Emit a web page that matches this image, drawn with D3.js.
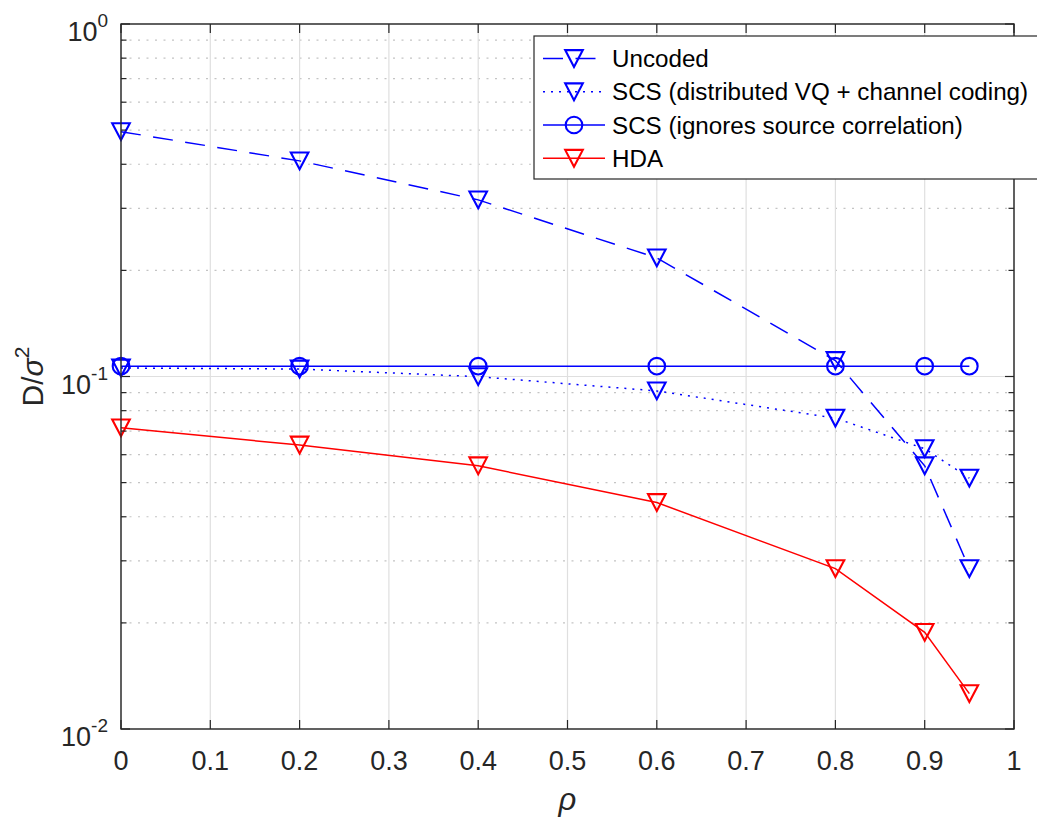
<!DOCTYPE html>
<html>
<head>
<meta charset="utf-8">
<script src="https://cdn.jsdelivr.net/npm/d3@7"></script>
<style>
  body { margin: 0; background: #fff; }
  svg { display: block; }
  text { font-family: "Liberation Sans", Arial, Helvetica, sans-serif; fill: #262626; }
</style>
</head>
<body>
<svg id="chart" width="1037" height="819"></svg>
<script>
// Correlation coefficient values
const rho = [0, 0.2, 0.4, 0.6, 0.8, 0.9, 0.95];

// Normalized distortion D/sigma^2 for each scheme
const uncoded   = [0.495, 0.409, 0.317, 0.217, 0.111, 0.0558, 0.0285];
const scsVq     = [0.1057, 0.105, 0.0999, 0.091, 0.0762, 0.0624, 0.0515];
const scsIgnore = [0.107, 0.107, 0.107, 0.107, 0.107, 0.107, 0.107];
const hda       = [0.0715, 0.0639, 0.0558, 0.0439, 0.0285, 0.0188, 0.0126];

// Axis ticks
const xTicks = [0, 0.1, 0.2, 0.3, 0.4, 0.5, 0.6, 0.7, 0.8, 0.9, 1];
const xTickLabels = ["0", "0.1", "0.2", "0.3", "0.4", "0.5", "0.6", "0.7", "0.8", "0.9", "1"];
const yDecadeExps = [-2, -1, 0];

const seriesNames = [
  "Uncoded",
  "SCS (distributed VQ + channel coding)",
  "SCS (ignores source correlation)",
  "HDA"
];

const series = [
  { name: seriesNames[0], values: uncoded,   color: "#0000ff", dash: "20,12.5", marker: "tri" },
  { name: seriesNames[1], values: scsVq,     color: "#0000ff", dash: "2,6",     marker: "tri" },
  { name: seriesNames[2], values: scsIgnore, color: "#0000ff", dash: null,      marker: "circ" },
  { name: seriesNames[3], values: hda,       color: "#ff0000", dash: null,      marker: "tri" }
];

const svg = d3.select("#chart");
const plotL = 121, plotR = 1014, plotT = 24, plotB = 729;
const axisColor = "#262626";

const x = d3.scaleLinear().domain([0, 1]).range([plotL, plotR]);
const y = d3.scaleLog().domain([0.01, 1]).range([plotB, plotT]);

// Grid: minor (dotted) horizontal lines
const minorVals = [];
yDecadeExps.slice(0, -1).forEach(e => {
  for (let k = 2; k <= 9; k++) minorVals.push(k * Math.pow(10, e));
});
const grid = svg.append("g");
grid.selectAll("line.minor").data(minorVals).enter().append("line")
  .attr("x1", plotL).attr("x2", plotR)
  .attr("y1", d => y(d)).attr("y2", d => y(d))
  .attr("stroke", "#c4c4c4").attr("stroke-width", 1.2)
  .attr("stroke-dasharray", "2,6.5");

// Grid: major lines
grid.selectAll("line.vx").data(xTicks).enter().append("line")
  .attr("x1", d => x(d)).attr("x2", d => x(d))
  .attr("y1", plotT).attr("y2", plotB)
  .attr("stroke", "#dfdfdf").attr("stroke-width", 1.2);
grid.selectAll("line.hy").data(yDecadeExps).enter().append("line")
  .attr("x1", plotL).attr("x2", plotR)
  .attr("y1", d => y(Math.pow(10, d))).attr("y2", d => y(Math.pow(10, d)))
  .attr("stroke", "#dfdfdf").attr("stroke-width", 1.2);

// Marker shapes
const triPath = () => {
  const w = 8.8, h = 8.4;
  return `M${-w},${-h}L${w},${-h}L0,${h}Z`;
};
function drawMarker(g, type, cx, cy, color) {
  if (type === "tri") {
    g.append("path").attr("d", triPath())
      .attr("transform", `translate(${cx},${cy})`)
      .attr("fill", "none").attr("stroke", color).attr("stroke-width", 2.1)
      .attr("stroke-linejoin", "miter");
  } else {
    g.append("circle").attr("cx", cx).attr("cy", cy).attr("r", 8.3)
      .attr("fill", "none").attr("stroke", color).attr("stroke-width", 2.1);
  }
}

// Series lines and markers
const lineGen = d3.line().x(d => x(d[0])).y(d => y(d[1]));
const plot = svg.append("g");
series.forEach(s => {
  const pts = rho.map((r, i) => [r, s.values[i]]);
  const p = plot.append("path").datum(pts)
    .attr("d", lineGen)
    .attr("fill", "none").attr("stroke", s.color).attr("stroke-width", 1.5);
  if (s.dash) p.attr("stroke-dasharray", s.dash);
  pts.forEach(d => drawMarker(plot, s.marker, x(d[0]), y(d[1]), s.color));
});

// Axes box and ticks
const ax = svg.append("g");
ax.append("rect").attr("x", plotL).attr("y", plotT)
  .attr("width", plotR - plotL).attr("height", plotB - plotT)
  .attr("fill", "none").attr("stroke", axisColor).attr("stroke-width", 1.4);

xTicks.forEach(t => {
  ax.append("line").attr("x1", x(t)).attr("x2", x(t)).attr("y1", plotB).attr("y2", plotB - 9)
    .attr("stroke", axisColor).attr("stroke-width", 1.2);
  ax.append("line").attr("x1", x(t)).attr("x2", x(t)).attr("y1", plotT).attr("y2", plotT + 9)
    .attr("stroke", axisColor).attr("stroke-width", 1.2);
});
yDecadeExps.forEach(e => {
  const yy = y(Math.pow(10, e));
  ax.append("line").attr("x1", plotL).attr("x2", plotL + 9).attr("y1", yy).attr("y2", yy)
    .attr("stroke", axisColor).attr("stroke-width", 1.2);
  ax.append("line").attr("x1", plotR).attr("x2", plotR - 9).attr("y1", yy).attr("y2", yy)
    .attr("stroke", axisColor).attr("stroke-width", 1.2);
});
minorVals.forEach(v => {
  const yy = y(v);
  ax.append("line").attr("x1", plotL).attr("x2", plotL + 5.5).attr("y1", yy).attr("y2", yy)
    .attr("stroke", axisColor).attr("stroke-width", 1.2);
  ax.append("line").attr("x1", plotR).attr("x2", plotR - 5.5).attr("y1", yy).attr("y2", yy)
    .attr("stroke", axisColor).attr("stroke-width", 1.2);
});

// X tick labels
xTicks.forEach((t, i) => {
  ax.append("text").attr("x", x(t)).attr("y", 770)
    .attr("text-anchor", "middle").attr("font-size", 27)
    .text(xTickLabels[i]);
});

// Y tick labels as 10 with superscript exponent
yDecadeExps.forEach(e => {
  const yy = y(Math.pow(10, e));
  const t = ax.append("text").attr("x", 108).attr("y", yy + 17)
    .attr("text-anchor", "end").attr("font-size", 27);
  t.append("tspan").text("10");
  t.append("tspan").attr("font-size", 19).attr("dy", -14).text(String(e));
});

// Axis labels
ax.append("text").attr("x", (plotL + plotR) / 2).attr("y", 810)
  .attr("text-anchor", "middle").attr("font-size", 31).attr("font-style", "italic")
  .text("ρ");

const yl = ax.append("text")
  .attr("transform", `translate(43,${(plotT + plotB) / 2}) rotate(-90)`)
  .attr("text-anchor", "middle").attr("font-size", 30);
yl.append("tspan").text("D/");
yl.append("tspan").attr("font-style", "italic").text("σ");
yl.append("tspan").attr("font-size", 21).attr("dy", -14).text("2");

// Legend
const lg = svg.append("g");
lg.append("rect").attr("x", 534).attr("y", 36).attr("width", 520).attr("height", 143)
  .attr("fill", "#fff").attr("stroke", axisColor).attr("stroke-width", 1.2);
const rowY = [58.5, 91.8, 125, 158.3];
series.forEach((s, i) => {
  const yy = rowY[i];
  const l = lg.append("line").attr("x1", 543).attr("x2", 605).attr("y1", yy).attr("y2", yy)
    .attr("stroke", s.color).attr("stroke-width", 1.5);
  if (s.dash) l.attr("stroke-dasharray", s.dash);
  drawMarker(lg, s.marker, 574, yy, s.color);
  lg.append("text").attr("x", 612).attr("y", yy + 8.6).attr("font-size", 24.2)
    .style("fill", "#000")
    .text(s.name);
});
</script>
</body>
</html>
